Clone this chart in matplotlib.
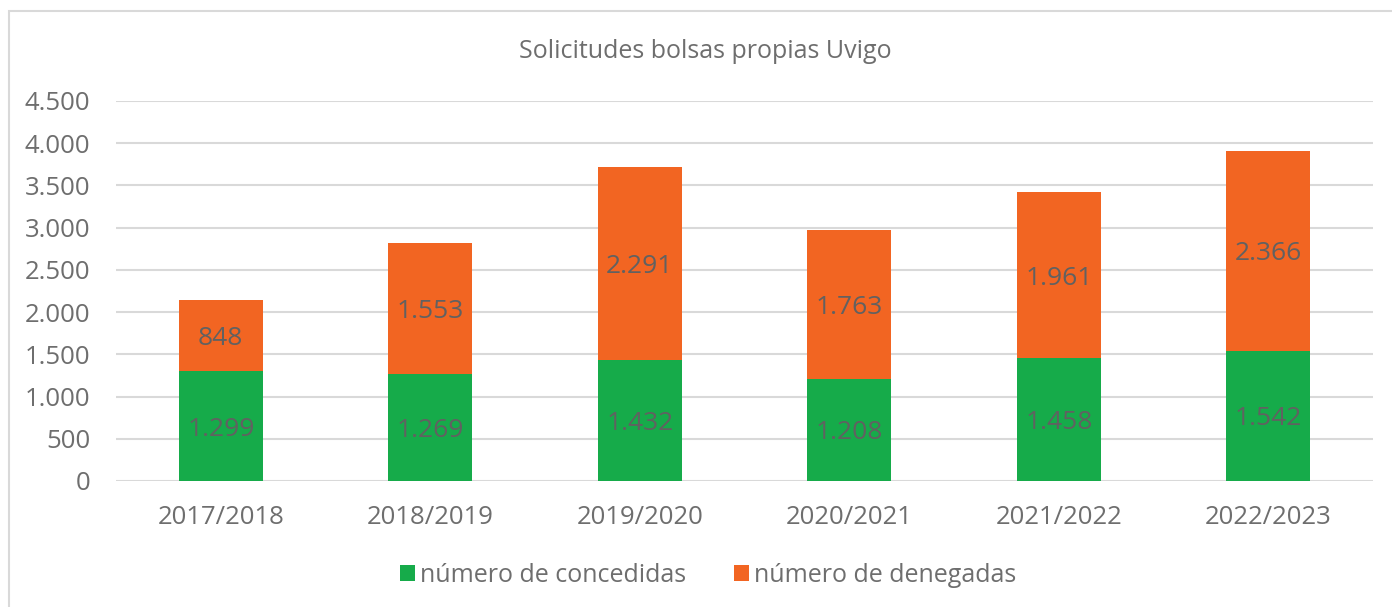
import matplotlib
matplotlib.use("Agg")
import matplotlib.pyplot as plt
from matplotlib.patches import Rectangle
from matplotlib.ticker import FuncFormatter

categories = ["2017/2018", "2018/2019", "2019/2020", "2020/2021", "2021/2022", "2022/2023"]
concedidas = [1299, 1269, 1432, 1208, 1458, 1542]
denegadas = [848, 1553, 2291, 1763, 1961, 2366]
yticks = [0, 500, 1000, 1500, 2000, 2500, 3000, 3500, 4000, 4500]

GREEN = "#16AB4A"
ORANGE = "#F26522"
TEXT = "#6E6E6E"
LABEL = "#616161"
GRID = "#D9D9D9"

plt.rcParams['font.family'] = ['Open Sans', 'DejaVu Sans']

W, H = 1392, 607
fig = plt.figure(figsize=(W / 100, H / 100), dpi=100)
fig.patch.set_facecolor("white")

# outer chart frame
fig.add_artist(Rectangle((9 / W, 1 - 11 / H - 700 / H), 1500 / W, 700 / H,
                         transform=fig.transFigure, fill=False,
                         edgecolor=GRID, linewidth=1.5))

ax = fig.add_axes([116 / W, 1 - 481 / H, (1373 - 116) / W, (481 - 101) / H])

def fmt(v):
    return f"{int(v):,}".replace(",", ".")

x = list(range(len(categories)))
b1 = ax.bar(x, concedidas, width=0.40, color=GREEN, label="número de concedidas", zorder=3)
b2 = ax.bar(x, denegadas, width=0.40, bottom=concedidas, color=ORANGE,
            label="número de denegadas", zorder=3)

for xi, c, d in zip(x, concedidas, denegadas):
    ax.text(xi, c / 2, fmt(c), ha="center", va="center_baseline", fontsize=19, color=LABEL, zorder=4)
    ax.text(xi, c + d / 2, fmt(d), ha="center", va="center_baseline", fontsize=19, color=LABEL, zorder=4)

ax.set_xlim(-0.5, len(categories) - 0.5)
ax.set_ylim(0, 4500)
ax.set_yticks(yticks)
ax.yaxis.set_major_formatter(FuncFormatter(lambda v, p: fmt(v)))
ax.set_xticks(x)
ax.set_xticklabels(categories)
ax.tick_params(axis="both", length=0, labelsize=18.5, colors=TEXT)
ax.tick_params(axis="y", pad=18.5)
ax.tick_params(axis="x", pad=17)
for s in ax.spines.values():
    s.set_visible(False)
ax.grid(axis="y", color=GRID, linewidth=1.5, zorder=0)
ax.set_axisbelow(True)

fig.text(705 / W, 1 - 51 / H, "Solicitudes bolsas propias Uvigo", ha="center", va="center",
         fontsize=18, color=TEXT)

leg = fig.legend(handles=[b1, b2], loc="center", bbox_to_anchor=(708 / W, 1 - 575 / H),
                 ncol=2, frameon=False, fontsize=18, labelcolor=TEXT,
                 handlelength=0.6, handleheight=0.6, handletextpad=0.2, columnspacing=1.9)

fig.savefig("out.png", dpi=100, facecolor="white")
